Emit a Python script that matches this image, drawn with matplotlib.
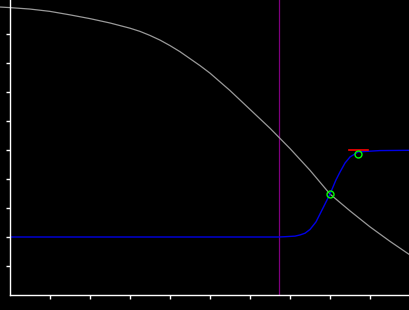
import matplotlib
matplotlib.use('Agg')
import matplotlib.pyplot as plt

# falling curve (grey)
fall_x = [-0.025, 0.0, 0.05, 0.1, 0.15, 0.2, 0.25, 0.3, 0.325, 0.35, 0.375, 0.4,
          0.425, 0.45, 0.475, 0.5, 0.55, 0.6, 0.65, 0.7, 0.75, 0.8, 0.85, 0.9,
          0.95, 1.0]
fall_y = [0.993, 0.991, 0.986, 0.978, 0.966, 0.953, 0.938, 0.920, 0.909, 0.895,
          0.879, 0.860, 0.839, 0.815, 0.791, 0.765, 0.705, 0.640, 0.575, 0.505,
          0.430, 0.348, 0.290, 0.235, 0.185, 0.138]

# rising response (blue)
rise_x = [0.0, 0.6725, 0.6875, 0.7125, 0.725, 0.7375, 0.75, 0.765, 0.7825, 0.8,
          0.815, 0.825, 0.8375, 0.85, 0.87, 0.8875, 0.925, 1.0]
rise_y = [0.2, 0.2, 0.201, 0.203, 0.207, 0.213, 0.226, 0.252, 0.30, 0.348,
          0.397, 0.424, 0.455, 0.476, 0.493, 0.495, 0.498, 0.499]

threshold_x = 0.6725
target_x = [0.8475, 0.895]
target_y = [0.5, 0.5]
marks_x = [0.8, 0.87]
marks_y = [0.348, 0.486]
ticks = [0.1, 0.2, 0.3, 0.4, 0.5, 0.6, 0.7, 0.8, 0.9]


def main():
  fig = plt.figure(figsize=(4.1, 3.1), dpi=100, facecolor='black')
  ax = fig.add_axes([10/410, 15/310, 400/410, 295/310])
  ax.set_facecolor('black')
  ax.set_xlim(0, 1.0)
  ax.set_ylim(0, 295/290)
  #
  for side in ['top', 'right']:
    ax.spines[side].set_visible(False)
  for side in ['left', 'bottom']:
    ax.spines[side].set_color('white')
    ax.spines[side].set_linewidth(1.0)
  ax.set_xticks(ticks)
  ax.set_yticks(ticks)
  ax.tick_params(colors='white', length=3, width=1, labelleft=False, labelbottom=False)
  #
  ax.axvline(threshold_x, color='#7f007f', lw=0.9)
  ax.plot(fall_x, fall_y, color='#999999', lw=0.9, clip_on=False)
  ax.plot(rise_x, rise_y, color='#0000e6', lw=1.0)
  ax.plot(target_x, target_y, color='#ff0000', lw=1.2)
  ax.plot(marks_x, marks_y, 'o', mfc='none', mec='#00ff00', ms=5, mew=1)
  fig.savefig('out.png', dpi=100, facecolor='black')


main()
